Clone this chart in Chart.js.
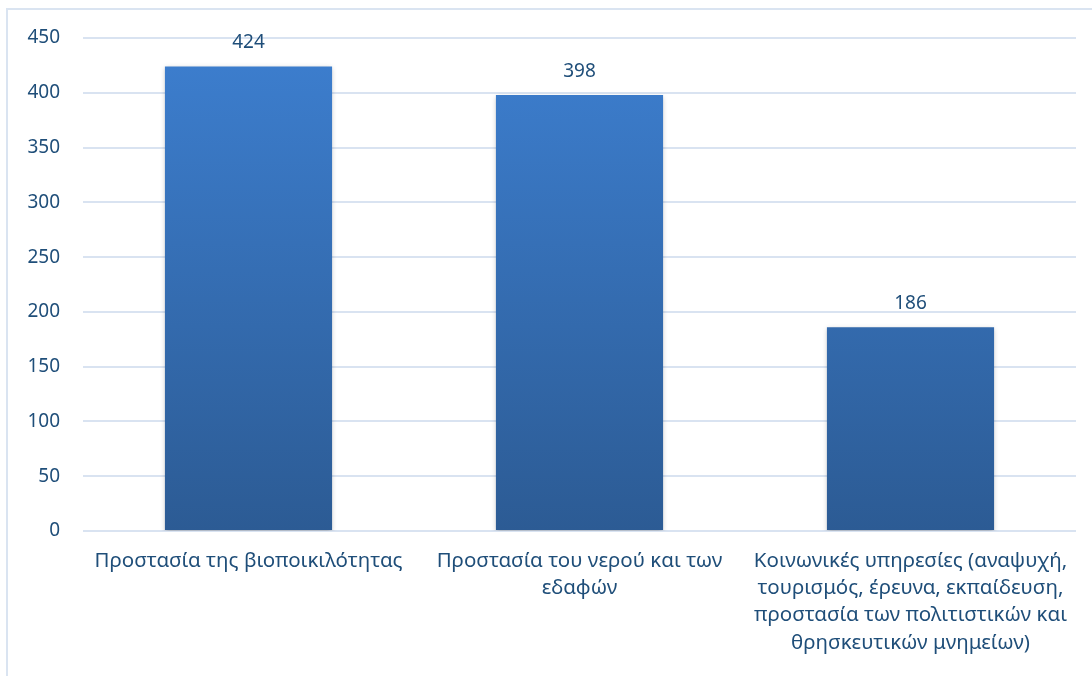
<!DOCTYPE html>
<html>
<head>
<meta charset="utf-8">
<script src="https://cdn.jsdelivr.net/npm/chart.js@4"></script>
<style>
  html, body { margin: 0; padding: 0; background: #fff; }
  #wrap { position: relative; width: 1092px; height: 676px; overflow: hidden; }
  #frame { position: absolute; left: 6px; top: 8px; width: 1100px; height: 700px;
           border: 2px solid #dae4f1; box-sizing: border-box; }
  canvas { position: absolute; left: 0; top: 0; }
</style>
</head>
<body>
<div id="wrap">
  <div id="frame"></div>
  <canvas id="chart" width="1092" height="676"></canvas>
</div>
<script>
const categories = [
  'Προστασία της βιοποικιλότητας',
  ['Προστασία του νερού και των', 'εδαφών'],
  ['Κοινωνικές υπηρεσίες (αναψυχή,', 'τουρισμός, έρευνα, εκπαίδευση,', 'προστασία των πολιτιστικών και', 'θρησκευτικών μνημείων)']
];
const counts = [424, 398, 186];
const yTicks = [0, 50, 100, 150, 200, 250, 300, 350, 400, 450];

const textColor = '#1f4e79';
const family = "'Noto Sans', sans-serif";
const numFont = { family: family, size: 19 };
const catFont = { family: family, size: 20.5, lineHeight: 1.32 };

function barFill(context) {
  const { chart } = context;
  const area = chart.chartArea;
  if (!area) return '#3a78c6';
  const g = chart.ctx.createLinearGradient(0, area.top, 0, area.bottom);
  g.addColorStop(0, '#3d7fd0');
  g.addColorStop(1, '#2c5b94');
  return g;
}

// value labels above each bar
const valueLabels = {
  id: 'valueLabels',
  afterDatasetsDraw(chart) {
    const ctx = chart.ctx;
    const meta = chart.getDatasetMeta(0);
    ctx.save();
    ctx.fillStyle = textColor;
    ctx.font = `${numFont.size}px ${numFont.family}`;
    ctx.textAlign = 'center';
    ctx.textBaseline = 'bottom';
    meta.data.forEach((bar, i) => {
      ctx.fillText(chart.data.datasets[0].data[i], bar.x, bar.y - 14);
    });
    ctx.restore();
  }
};

// soft drop shadow under the bars
const barShadow = {
  id: 'barShadow',
  beforeDatasetsDraw(chart) {
    const ctx = chart.ctx;
    ctx.save();
    ctx.shadowColor = 'rgba(0,0,0,0.25)';
    ctx.shadowBlur = 5;
    ctx.shadowOffsetY = 2;
  },
  afterDatasetsDraw(chart) {
    chart.ctx.restore();
  }
};

new Chart(document.getElementById('chart'), {
  type: 'bar',
  data: {
    labels: categories,
    datasets: [{
      data: counts,
      backgroundColor: barFill,
      borderWidth: 0,
      barPercentage: 0.505,
      categoryPercentage: 1
    }]
  },
  options: {
    responsive: false,
    animation: false,
    layout: { padding: { left: 0, top: 38, right: 16, bottom: 0 } },
    plugins: { legend: { display: false }, tooltip: { enabled: false } },
    scales: {
      x: {
        grid: { display: false, drawTicks: false },
        border: { display: false },
        ticks: { color: textColor, font: catFont, padding: 17, maxRotation: 0, autoSkip: false },
        afterFit(scale) { scale.height = 145; }
      },
      y: {
        min: 0,
        max: 450,
        afterBuildTicks(scale) { scale.ticks = yTicks.map(v => ({ value: v })); },
        grid: { color: '#d9e3f1', lineWidth: 2, drawTicks: false },
        border: { display: false },
        ticks: { color: textColor, font: numFont, padding: 23 },
        afterFit(scale) { scale.width = 83; }
      }
    }
  },
  plugins: [barShadow, valueLabels]
});
</script>
</body>
</html>
